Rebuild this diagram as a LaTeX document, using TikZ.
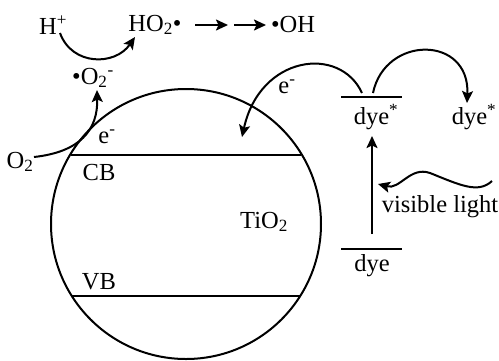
\documentclass[tikz,border=0pt]{standalone}
\usepackage{fontspec}
\setmainfont{Liberation Serif}
\usetikzlibrary{arrows.meta,calc}
\begin{document}
\begin{tikzpicture}[x=1pt,y=-1pt,
  lbl/.style={inner sep=0pt,font=\fontsize{24.5}{28}\selectfont},
  ln/.style={line width=2pt},
  arr/.style={line width=2pt,-{Stealth[length=12pt,width=11pt,inset=2.5pt]}}]
\useasboundingbox (0,0) rectangle (499,360);
% circle and bands
\node[draw,circle,line width=2pt,minimum size=270pt,inner sep=0pt] (tio) at (186,224) {};
\coordinate (cbl) at (71,155); \coordinate (cbr) at (301,155);
\coordinate (vbl) at (71,296); \coordinate (vbr) at (300,296);
\draw[ln] (cbl) -- (cbr);
\draw[ln] (vbl) -- (vbr);
% labels
\node[lbl] (hp) at (53,25) {H\textsuperscript{+}};
\node[lbl] (ho2) at (155,25) {HO\textsubscript{2}\textbullet};
\node[lbl] (oh) at (293,25) {\textbullet OH};
\node[lbl] (o2r) at (93,78) {\textbullet O\textsubscript{2}\textsuperscript{-}};
\node[lbl] (o2) at (20,162) {O\textsubscript{2}};
\node[lbl] (e1) at (107,137) {e\textsuperscript{-}};
\node[lbl] (cb) at (99,173) {CB};
\node[lbl] (vb) at (99,282) {VB};
\node[lbl] (ti) at (264,222) {TiO\textsubscript{2}};
\node[lbl] (e2) at (287,87) {e\textsuperscript{-}};
\node[lbl] (dx) at (376,117) {dye\textsuperscript{*}};
\node[lbl] (dr) at (474,117) {dye\textsuperscript{*}};
\node[lbl] (dg) at (372,266) {dye};
\node[lbl] (vl) at (440,207) {visible light};
% dye levels
\coordinate (dxl) at (341,97); \coordinate (dxr) at (402,97);
\coordinate (dgl) at (341,249); \coordinate (dgr) at (402,249);
\draw[ln] (dxl) -- (dxr);
\draw[ln] (dgl) -- (dgr);
% arrows
\coordinate (a1s) at (195,25); \coordinate (a1e) at (228,25);
\coordinate (a2s) at (234,25); \coordinate (a2e) at (266,25);
\draw[arr] (a1s) -- (a1e);
\draw[arr] (a2s) -- (a2e);
\coordinate (hs) at (60,33); \coordinate (ht) at (135,37);
\draw[arr] (hs) .. controls (72,66) and (115,66) .. (ht);
\coordinate (os) at (34,157); \coordinate (ot) at (97,90);
\draw[arr] (os) .. controls (80,152) and (98,130) .. (ot);
\coordinate (es) at (362,93); \coordinate (et) at (242,137);
\draw[arr] (es) .. controls (340,45) and (260,55) .. (et);
\coordinate (rs) at (373,93); \coordinate (rt) at (467,103);
\draw[arr] (rs) .. controls (385,35) and (470,35) .. (rt);
\coordinate (vs) at (372,234); \coordinate (vt) at (372,136);
\draw[arr] (vs) -- (vt);
\coordinate (ws) at (492,181); \coordinate (wt) at (378,184);
\draw[arr] (ws) .. controls (478,194) and (460,185) .. (430,173) .. controls (410,166) and (400,190) .. (wt);
\end{tikzpicture}
\end{document}
